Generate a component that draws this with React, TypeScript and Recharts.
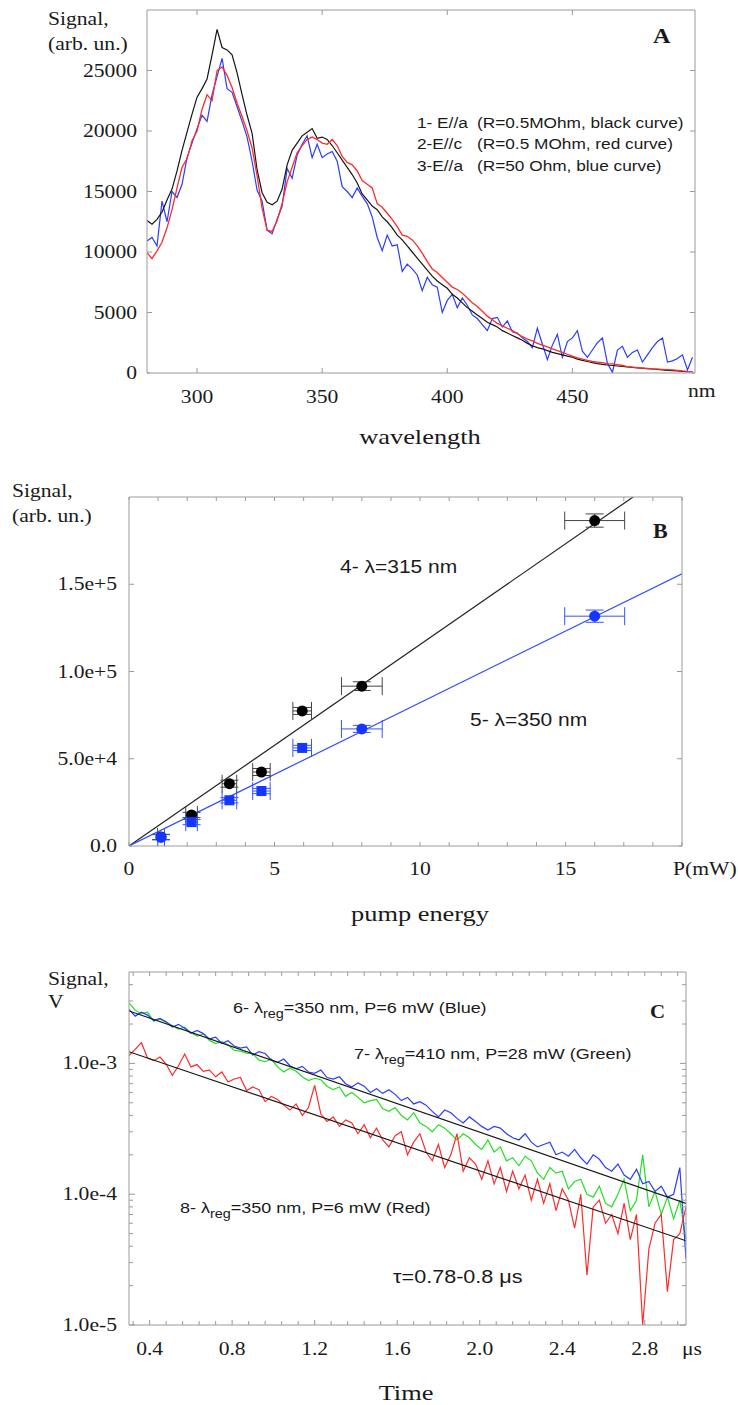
import React from "react";
import { LineChart, Line, XAxis, YAxis, ComposedChart, Scatter, ErrorBar } from "recharts";

const SERIF = "'Liberation Serif', 'Times New Roman', serif";
const SANS = "'Liberation Sans', Arial, sans-serif";
const SX = 1.2;
const FRAME = "#9a9a9a";
const INK = "#1a1a1a";

// ---------- panel A : spectra ----------
const wavelength = [
  280, 282, 284, 286, 288, 290, 292, 294, 296, 298,
  300, 302, 304, 306, 308, 310, 312, 314, 316, 318,
  320, 322, 324, 326, 328, 330, 332, 334, 336, 338,
  340, 342, 344, 346, 348, 350, 352, 354, 356, 358,
  360, 362, 364, 366, 368, 370, 372, 374, 376, 378,
  380, 382, 384, 386, 388, 390, 392, 394, 396, 398,
  400, 402, 404, 406, 408, 410, 412, 414, 416, 418,
  420, 422, 424, 426, 428, 430, 432, 434, 436, 438,
  440, 442, 444, 446, 448, 450, 452, 454, 456, 458,
  460, 462, 464, 466, 468, 470, 472, 474, 476, 478,
  480, 482, 484, 486, 488, 490, 492, 494, 496, 498,
];
const blackCurve = [
  12600, 12300, 12700, 13300, 14300, 15200, 16700, 18400, 19900, 21400,
  22800, 23500, 24300, 26300, 28400, 26900, 26700, 26300, 24800, 23000,
  21300, 19800, 16800, 14900, 14100, 13900, 14200, 15200, 17200, 18400,
  19000, 19600, 19900, 20200, 19400, 19500, 19300, 18800, 18200, 17600,
  17000, 16400, 15700, 14800, 14300, 13800, 13500, 12900, 12500, 12000,
  11400, 11000, 10500, 10000, 9500, 9000, 8500, 8000, 7600, 7300,
  7000, 6500, 6200, 5800, 5400, 5100, 4800, 4500, 4200, 4000,
  3800, 3500, 3300, 3100, 2900, 2700, 2450, 2250, 2100, 2000,
  1850, 1700, 1600, 1500, 1400, 1300, 1150, 1050, 950, 850,
  780, 720, 660, 620, 580, 540, 500, 470, 430, 400,
  360, 330, 300, 260, 220, 200, 170, 140, 120, 110,
];
const redCurve = [
  9950, 9450, 10100, 10800, 12000, 13500, 15300, 17000, 17700, 19200,
  20000, 21800, 23000, 22500, 25000, 25300, 24600, 23600, 22300, 21200,
  20000, 18600, 16300, 13600, 11800, 11700, 12600, 14000, 15800, 17000,
  18200, 18800, 19300, 19500, 19300, 19000, 18900, 19300, 18800, 17900,
  17400, 17200, 16700, 15900, 15600, 15300, 14000, 13700, 13200, 12700,
  12100, 11400, 11300, 11000, 10500, 9900, 9200, 8600, 8300, 7900,
  7500, 7100, 6900, 6600, 6200, 5800, 5500, 5100, 4700, 4400,
  4100, 3900, 3700, 3500, 3250, 3000, 2800, 2650, 2450, 2300,
  2150, 2000, 1850, 1700, 1550, 1400, 1250, 1150, 1050, 950,
  900, 850, 780, 750, 700, 620, 530, 480, 440, 400,
  370, 340, 320, 300, 280, 250, 220, 170, 140, 120,
];
const blueCurve = [
  10900, 11200, 10500, 14200, 12500, 15000, 14500, 15600, 17800, 19000,
  20200, 21300, 20800, 23000, 24500, 26000, 23500, 23200, 22000, 20800,
  19500, 17500, 15100, 14200, 11800, 11500, 12700, 13800, 16900, 16100,
  18000, 18900, 19600, 17800, 18900, 17800, 18100, 18300, 17500, 15400,
  15000, 14500, 15300, 14600, 14000, 12900, 11200, 10100, 11400, 10500,
  10600, 8400, 9000, 8600, 8100, 6800, 7900, 7300, 7100, 5000,
  6000, 6500, 5400, 6200, 5600, 4800, 4500, 4000, 3500, 4500,
  4600, 3800, 4300, 3400, 3300, 2900, 2600, 2100, 3700, 2400,
  1100, 2300, 3200, 1300, 2600, 2900, 3500, 1800, 1300, 1900,
  2500, 2900, 800, 50, 1900, 2200, 1300, 1700, 1900, 900,
  1500, 2100, 2600, 2900, 900, 1000, 1200, 1500, 250, 1300,
];
const aTicksX = [300, 350, 400, 450];
const aTicksY = [0, 5000, 10000, 15000, 20000, 25000];

// ---------- panel B : pump dependence ----------
const power = [1.1, 2.15, 3.45, 4.55, 5.95, 8.0, 16.0];
const powerErr = [0.12, 0.2, 0.25, 0.3, 0.32, 0.7, 1.03];
const sig315 = [5200, 17800, 35700, 42400, 77400, 91600, 186500];
const sig315Err = [1500, 1500, 2000, 2000, 2000, 2500, 3800];
const sig350 = [5000, 13700, 26200, 31500, 56200, 67100, 131700];
const sig350Err = [1500, 1500, 1500, 1500, 1500, 2000, 3500];
const marker350 = ["c", "s", "s", "s", "s", "c", "c"];
const fit315P = [0, 17.32];
const fit315S = [0, 200000];
const fit350P = [0, 19];
const fit350S = [0, 156000];
const bTicksX = [0, 1, 2, 3, 4, 5, 6, 7, 8, 9, 10, 11, 12, 13, 14, 15, 16, 17, 18, 19];
const bLabelsX = [0, 5, 10, 15];
const bTicksY = [0, 50000, 100000, 150000];
const bLabelsY = ["0.0", "5.0e+4", "1.0e+5", "1.5e+5"];

// ---------- panel C : decay (values in 1e-4 V) ----------
const time = [
  0.30, 0.33, 0.36, 0.39, 0.42, 0.45, 0.48, 0.51, 0.54, 0.57,
  0.60, 0.63, 0.66, 0.69, 0.72, 0.75, 0.78, 0.81, 0.84, 0.87,
  0.90, 0.93, 0.96, 0.99, 1.02, 1.05, 1.08, 1.11, 1.14, 1.17,
  1.20, 1.23, 1.26, 1.29, 1.32, 1.35, 1.38, 1.41, 1.44, 1.47,
  1.50, 1.53, 1.56, 1.59, 1.62, 1.65, 1.68, 1.71, 1.74, 1.77,
  1.80, 1.83, 1.86, 1.89, 1.92, 1.95, 1.98, 2.01, 2.04, 2.07,
  2.10, 2.13, 2.16, 2.19, 2.22, 2.25, 2.28, 2.31, 2.34, 2.37,
  2.40, 2.43, 2.46, 2.49, 2.52, 2.55, 2.58, 2.61, 2.64, 2.67,
  2.70, 2.73, 2.76, 2.79, 2.82, 2.85, 2.88, 2.91, 2.94, 2.97,
  3.00,
];
const blueDecay = [
  25.9, 23.0, 24.6, 23.4, 21.3, 22.1, 20.8, 19.0, 19.9, 18.6,
  17.0, 17.9, 16.9, 15.4, 15.9, 14.2, 14.9, 13.6, 13.1, 13.4,
  11.6, 12.3, 11.9, 10.6, 10.2, 10.8, 9.6, 9.1, 9.5, 8.6,
  8.4, 8.9, 7.8, 7.6, 7.9, 7.0, 6.6, 7.1, 6.7, 6.0,
  6.4, 5.9, 6.3, 5.8, 5.2, 5.5, 4.9, 5.1, 4.8, 4.3,
  3.9, 4.4, 4.2, 3.8, 3.5, 3.9, 3.6, 3.3, 3.1, 3.3,
  3.2, 2.9, 2.7, 2.6, 2.9, 2.5, 2.3, 2.4, 2.5, 2.0,
  2.1, 1.95, 2.2, 1.9, 1.7, 2.0, 1.85, 1.6, 1.5, 1.7,
  1.4, 1.3, 1.55, 1.2, 1.25, 1.05, 1.15, 0.95, 1.0, 1.6,
  0.32,
];
const greenDecay = [
  29.0, 25.5, 24.0, 24.6, 21.0, 21.8, 20.7, 19.4, 18.3, 18.9,
  17.2, 16.2, 16.8, 15.0, 14.2, 14.7, 13.9, 12.6, 12.4, 12.0,
  11.9, 10.6, 10.3, 10.8, 9.4, 8.6, 9.2, 8.7, 7.9, 7.4,
  7.7, 7.5, 6.7, 6.3, 6.6, 5.6, 6.0, 5.5, 5.0, 5.2,
  5.3, 4.5, 4.3, 4.6, 4.0, 3.7, 4.2, 3.5, 3.3, 3.0,
  3.4, 3.2, 2.9, 2.6, 2.9, 2.7, 2.4, 2.2, 2.6, 2.1,
  2.3, 1.8, 1.9, 1.65, 1.95, 1.8, 1.45, 1.3, 1.6, 1.45,
  1.5, 1.1, 1.25, 1.3, 1.0, 0.95, 1.15, 0.85, 0.8, 1.0,
  1.3, 0.75, 0.9, 2.0, 0.8, 1.05, 0.7, 0.95, 0.65, 0.9,
  0.45,
];
const redDecay = [
  11.5, 12.8, 14.4, 11.0, 10.5, 11.2, 9.9, 8.1, 9.6, 11.8,
  9.4, 9.8, 8.7, 8.9, 7.9, 8.6, 7.2, 7.6, 7.8, 6.2,
  6.6, 6.3, 5.1, 5.6, 5.3, 4.8, 4.4, 4.9, 4.0, 4.6,
  6.8, 4.1, 3.6, 3.9, 3.3, 3.7, 3.5, 2.9, 3.4, 2.7,
  3.2, 2.6, 2.3, 2.8, 3.0, 2.0, 2.5, 2.9, 2.1, 1.8,
  2.4, 1.6, 2.0, 2.9, 1.5, 1.9, 1.7, 1.3, 1.8, 1.2,
  1.6, 1.05, 1.5, 1.1, 1.4, 0.9, 1.3, 0.85, 1.2, 0.75,
  1.1, 0.9, 0.55, 1.0, 0.24, 0.8, 0.9, 0.6, 0.7, 0.5,
  0.85, 0.45, 0.7, 0.1, 0.38, 0.6, 0.7, 0.18, 0.45, 0.5,
  0.8,
];
const fitT = [0.3, 3.0];
const fitUpper = [25.2, 0.85];
const fitLower = [12.3, 0.44];
const cTicksX = [
  0.32, 0.4, 0.48, 0.56, 0.64, 0.72, 0.8, 0.88, 0.96, 1.04, 1.12, 1.2,
  1.28, 1.36, 1.44, 1.52, 1.6, 1.68, 1.76, 1.84, 1.92, 2.0, 2.08, 2.16,
  2.24, 2.32, 2.4, 2.48, 2.56, 2.64, 2.72, 2.8, 2.88, 2.96,
];
const cLabelsX = ["0.4", "0.8", "1.2", "1.6", "2.0", "2.4", "2.8"];
const cTicksY = [
  1e-5, 2e-5, 3e-5, 4e-5, 5e-5, 6e-5, 7e-5, 8e-5, 9e-5,
  1e-4, 2e-4, 3e-4, 4e-4, 5e-4, 6e-4, 7e-4, 8e-4, 9e-4,
  1e-3, 2e-3, 3e-3, 4e-3,
];
const cLabelsY = ["1.0e-5", "1.0e-4", "1.0e-3"];

// ---------- tables ----------
const spectra = wavelength.map((wl, i) => ({ wl, black: blackCurve[i], red: redCurve[i], blue: blueCurve[i] }));
const pts315 = power.map((p, i) => ({ p, s: sig315[i], ex: powerErr[i], ey: sig315Err[i], m: "c" }));
const pts350 = power.map((p, i) => ({ p, s: sig350[i], ex: powerErr[i], ey: sig350Err[i], m: marker350[i] }));
const line315 = fit315P.map((p, i) => ({ p, s: fit315S[i] }));
const line350 = fit350P.map((p, i) => ({ p, s: fit350S[i] }));
const decay = time.map((t, i) => ({ t, blue: blueDecay[i] * 1e-4, green: greenDecay[i] * 1e-4, red: redDecay[i] * 1e-4 }));
const upperFit = fitT.map((t, i) => ({ t, v: fitUpper[i] * 1e-4 }));
const lowerFit = fitT.map((t, i) => ({ t, v: fitLower[i] * 1e-4 }));

type Side = "bottom" | "top" | "left" | "right";
interface TickOpts {
  label?: (v: number) => string | null;
  major?: (v: number) => boolean;
  gap?: number;
  majorLen?: number;
  minorLen?: number;
}

const makeTick = (side: Side, o: TickOpts = {}) => (props: any) => {
  const { x, y, payload } = props;
  const v = payload.value;
  const big = o.major ? o.major(v) : true;
  const len = big ? o.majorLen ?? 5 : o.minorLen ?? 3;
  const text = o.label ? o.label(v) : null;
  const gap = o.gap ?? 10;
  let x2 = x;
  let y2 = y;
  if (side === "bottom") y2 = y - len;
  if (side === "top") y2 = y + len;
  if (side === "left") x2 = x + len;
  if (side === "right") x2 = x - len;
  return (
    <g>
      <line x1={x} y1={y} x2={x2} y2={y2} stroke={FRAME} strokeWidth={1} />
      {text != null && side === "bottom" && (
        <text transform={`translate(${x},${y + gap}) scale(${SX},1)`} textAnchor="middle" fontFamily={SERIF} fontSize={18} fill={INK}>
          {text}
        </text>
      )}
      {text != null && side === "left" && (
        <text transform={`translate(${x - gap},${y + 6}) scale(${SX},1)`} textAnchor="end" fontFamily={SERIF} fontSize={18} fill={INK}>
          {text}
        </text>
      )}
    </g>
  );
};

const near = (a: number, b: number) => Math.abs(a - b) < 1e-9;

const T = ({ x, y, size = 18, font = SERIF, bold = false, anchor = "start", sx = SX, children }: any) => (
  <text
    transform={`translate(${x},${y}) scale(${sx},1)`}
    fontFamily={font}
    fontSize={size}
    fontWeight={bold ? "bold" : "normal"}
    textAnchor={anchor}
    fill={INK}
    style={{ whiteSpace: "pre" }}
  >
    {children}
  </text>
);

const Marker = (props: any) => {
  const { cx, cy, payload, fill } = props;
  if (cx == null || cy == null) return null;
  if (payload.m === "s") return <rect x={cx - 5} y={cy - 5} width={10} height={10} fill={fill} />;
  return <circle cx={cx} cy={cy} r={5.5} fill={fill} />;
};

const axisLine = { stroke: FRAME, strokeWidth: 1 };

const PanelA = () => (
  <LineChart width={738} height={460} data={spectra} margin={{ top: 9, right: 42, bottom: 86, left: 146 }}>
    <XAxis xAxisId="b" dataKey="wl" type="number" domain={[280, 499]} allowDataOverflow ticks={aTicksX} interval={0}
      height={1} tickSize={0} tickMargin={0} tickLine={false} axisLine={axisLine}
      tick={makeTick("bottom", { label: (v) => String(v), gap: 30 })} />
    <XAxis xAxisId="t" orientation="top" dataKey="wl" type="number" domain={[280, 499]} allowDataOverflow ticks={aTicksX} interval={0}
      height={1} tickSize={0} tickMargin={0} tickLine={false} axisLine={axisLine} tick={makeTick("top")} />
    <YAxis yAxisId="l" type="number" domain={[0, 30000]} allowDataOverflow ticks={aTicksY} interval={0}
      width={1} tickSize={0} tickMargin={0} tickLine={false} axisLine={axisLine}
      tick={makeTick("left", { label: (v) => String(v), gap: 10, major: (v) => v !== 0 })} />
    <YAxis yAxisId="r" orientation="right" type="number" domain={[0, 30000]} allowDataOverflow ticks={aTicksY} interval={0}
      width={1} tickSize={0} tickMargin={0} tickLine={false} axisLine={axisLine}
      tick={makeTick("right", { major: (v) => v !== 0 })} />
    <Line xAxisId="b" yAxisId="l" dataKey="blue" stroke="#2a3cff" strokeWidth={1.2} dot={false} type="linear" isAnimationActive={false} />
    <Line xAxisId="b" yAxisId="l" dataKey="black" stroke="#151515" strokeWidth={1.2} dot={false} type="linear" isAnimationActive={false} />
    <Line xAxisId="b" yAxisId="l" dataKey="red" stroke="#ff2a2a" strokeWidth={1.3} dot={false} type="linear" isAnimationActive={false} />
  </LineChart>
);

const PanelB = () => (
  <ComposedChart width={738} height={470} margin={{ top: 36, right: 55, bottom: 83, left: 128 }}>
    <XAxis xAxisId="b" dataKey="p" type="number" domain={[0, 19]} allowDataOverflow ticks={bTicksX} interval={0}
      height={1} tickSize={0} tickMargin={0} tickLine={false} axisLine={axisLine}
      tick={makeTick("bottom", {
        label: (v) => (bLabelsX.includes(v) ? String(v) : null),
        major: (v) => v !== 0,
        majorLen: 4,
        minorLen: 4,
        gap: 29,
      })} />
    <XAxis xAxisId="t" orientation="top" dataKey="p" type="number" domain={[0, 19]} allowDataOverflow ticks={bTicksX} interval={0}
      height={1} tickSize={0} tickMargin={0} tickLine={false} axisLine={axisLine}
      tick={makeTick("top", { major: (v) => v !== 0, majorLen: 4 })} />
    <YAxis yAxisId="l" dataKey="s" type="number" domain={[0, 200000]} allowDataOverflow ticks={bTicksY} interval={0}
      width={1} tickSize={0} tickMargin={0} tickLine={false} axisLine={axisLine}
      tick={makeTick("left", {
        label: (v) => bLabelsY[bTicksY.indexOf(v)] ?? null,
        major: (v) => v !== 0,
        gap: 12,
      })} />
    <YAxis yAxisId="r" orientation="right" dataKey="s" type="number" domain={[0, 200000]} allowDataOverflow ticks={bTicksY} interval={0}
      width={1} tickSize={0} tickMargin={0} tickLine={false} axisLine={axisLine}
      tick={makeTick("right", { major: (v) => v !== 0 })} />
    <Line xAxisId="b" yAxisId="l" data={line315} dataKey="s" stroke="#222" strokeWidth={1.2} dot={false} type="linear" isAnimationActive={false} />
    <Line xAxisId="b" yAxisId="l" data={line350} dataKey="s" stroke="#2f4dff" strokeWidth={1.2} dot={false} type="linear" isAnimationActive={false} />
    <Scatter xAxisId="b" yAxisId="l" data={pts315} dataKey="s" fill="#000" shape={(p: any) => <Marker {...p} fill="#000" />} isAnimationActive={false}>
      <ErrorBar dataKey="ex" direction="x" width={9} stroke="#444" strokeWidth={1} />
      <ErrorBar dataKey="ey" direction="y" width={9} stroke="#444" strokeWidth={1} />
    </Scatter>
    <Scatter xAxisId="b" yAxisId="l" data={pts350} dataKey="s" fill="#1436ff" shape={(p: any) => <Marker {...p} fill="#1436ff" />} isAnimationActive={false}>
      <ErrorBar dataKey="ex" direction="x" width={9} stroke="#3355ff" strokeWidth={1} />
      <ErrorBar dataKey="ey" direction="y" width={9} stroke="#3355ff" strokeWidth={1} />
    </Scatter>
  </ComposedChart>
);

const PanelC = () => (
  <LineChart width={738} height={465} data={decay} margin={{ top: 31, right: 51, bottom: 79, left: 128 }}>
    <XAxis xAxisId="b" dataKey="t" type="number" domain={[0.3, 3.0]} allowDataOverflow ticks={cTicksX} interval={0}
      height={1} tickSize={0} tickMargin={0} tickLine={false} axisLine={axisLine}
      tick={makeTick("bottom", {
        label: (v) => cLabelsX.find((s) => near(parseFloat(s), v)) ?? null,
        major: (v) => cLabelsX.some((s) => near(parseFloat(s), v)),
        majorLen: 5,
        minorLen: 4,
        gap: 30,
      })} />
    <XAxis xAxisId="t" orientation="top" dataKey="t" type="number" domain={[0.3, 3.0]} allowDataOverflow ticks={cTicksX} interval={0}
      height={1} tickSize={0} tickMargin={0} tickLine={false} axisLine={axisLine}
      tick={makeTick("top", { majorLen: 4 })} />
    <YAxis yAxisId="l" type="number" scale="log" domain={[1e-5, 5e-3]} allowDataOverflow ticks={cTicksY} interval={0}
      width={1} tickSize={0} tickMargin={0} tickLine={false} axisLine={axisLine}
      tick={makeTick("left", {
        label: (v) => cLabelsY.find((s) => Math.abs(parseFloat(s) / v - 1) < 1e-6) ?? null,
        major: (v) => cLabelsY.some((s) => Math.abs(parseFloat(s) / v - 1) < 1e-6),
        majorLen: 6,
        minorLen: 4,
        gap: 12,
      })} />
    <YAxis yAxisId="r" orientation="right" type="number" scale="log" domain={[1e-5, 5e-3]} allowDataOverflow ticks={cTicksY} interval={0}
      width={1} tickSize={0} tickMargin={0} tickLine={false} axisLine={axisLine}
      tick={makeTick("right", {
        major: (v) => cLabelsY.some((s) => Math.abs(parseFloat(s) / v - 1) < 1e-6),
        majorLen: 6,
        minorLen: 4,
      })} />
    <Line xAxisId="b" yAxisId="l" dataKey="green" stroke="#22e022" strokeWidth={1.2} dot={false} type="linear" isAnimationActive={false} />
    <Line xAxisId="b" yAxisId="l" dataKey="blue" stroke="#2a3cff" strokeWidth={1.2} dot={false} type="linear" isAnimationActive={false} />
    <Line xAxisId="b" yAxisId="l" dataKey="red" stroke="#ff2a2a" strokeWidth={1.2} dot={false} type="linear" isAnimationActive={false} />
    <Line xAxisId="b" yAxisId="l" data={upperFit} dataKey="v" stroke="#151515" strokeWidth={1.1} dot={false} type="linear" isAnimationActive={false} />
    <Line xAxisId="b" yAxisId="l" data={lowerFit} dataKey="v" stroke="#151515" strokeWidth={1.1} dot={false} type="linear" isAnimationActive={false} />
  </LineChart>
);

const Labels = () => (
  <svg width={738} height={1405} style={{ position: "absolute", left: 0, top: 0, pointerEvents: "none" }}>
    {/* A */}
    <T x={48} y={25}>Signal,</T>
    <T x={48} y={50}>(arb. un.)</T>
    <T x={653} y={43} size={22} bold sx={1.1}>A</T>
    <T x={417} y={128} size={15} font={SANS} sx={1.15}>1- E//a</T>
    <T x={477} y={128} size={15} font={SANS} sx={1.15}>(R=0.5MOhm, black curve)</T>
    <T x={417} y={149} size={15} font={SANS} sx={1.15}>2-E//c</T>
    <T x={477} y={149} size={15} font={SANS} sx={1.15}>(R=0.5 MOhm, red curve)</T>
    <T x={417} y={171} size={15} font={SANS} sx={1.15}>3-E//a</T>
    <T x={477} y={171} size={15} font={SANS} sx={1.15}>(R=50 Ohm, blue curve)</T>
    <T x={688} y={397}>nm</T>
    <T x={420} y={444} size={22} anchor="middle">wavelength</T>
    {/* B */}
    <T x={12} y={497}>Signal,</T>
    <T x={12} y={522}>(arb. un.)</T>
    <T x={653} y={538} size={20} bold sx={1.1}>B</T>
    <T x={340} y={573} size={17.5} font={SANS}>4- λ=315 nm</T>
    <T x={470} y={726} size={17.5} font={SANS}>5- λ=350 nm</T>
    <T x={673} y={875}>P(mW)</T>
    <T x={420} y={921} size={22} anchor="middle">pump energy</T>
    {/* C */}
    <T x={48} y={985}>Signal,</T>
    <T x={48} y={1008}>V</T>
    <T x={650} y={1018} size={19} bold sx={1.1}>C</T>
    <T x={233} y={1013} size={15} font={SANS}>
      6- λ<tspan dy={5} fontSize={12}>reg</tspan><tspan dy={-5}>=350 nm, P=6 mW (Blue)</tspan>
    </T>
    <T x={354} y={1059} size={15} font={SANS}>
      7- λ<tspan dy={5} fontSize={12}>reg</tspan><tspan dy={-5}>=410 nm, P=28 mW (Green)</tspan>
    </T>
    <T x={180} y={1213} size={15} font={SANS}>
      8- λ<tspan dy={5} fontSize={12}>reg</tspan><tspan dy={-5}>=350 nm, P=6 mW (Red)</tspan>
    </T>
    <T x={393} y={1283} size={18} font={SANS}>τ=0.78-0.8 μs</T>
    <T x={682} y={1355}>μs</T>
    <T x={406} y={1400} size={22} anchor="middle">Time</T>
  </svg>
);

export default function App() {
  return (
    <div style={{ position: "absolute", left: 0, top: 0, width: 738, height: 1405, background: "#fff" }}>
      <div style={{ position: "absolute", left: 0, top: 0 }}>
        <PanelA />
      </div>
      <div style={{ position: "absolute", left: 0, top: 460 }}>
        <PanelB />
      </div>
      <div style={{ position: "absolute", left: 0, top: 940 }}>
        <PanelC />
      </div>
      <Labels />
    </div>
  );
}
